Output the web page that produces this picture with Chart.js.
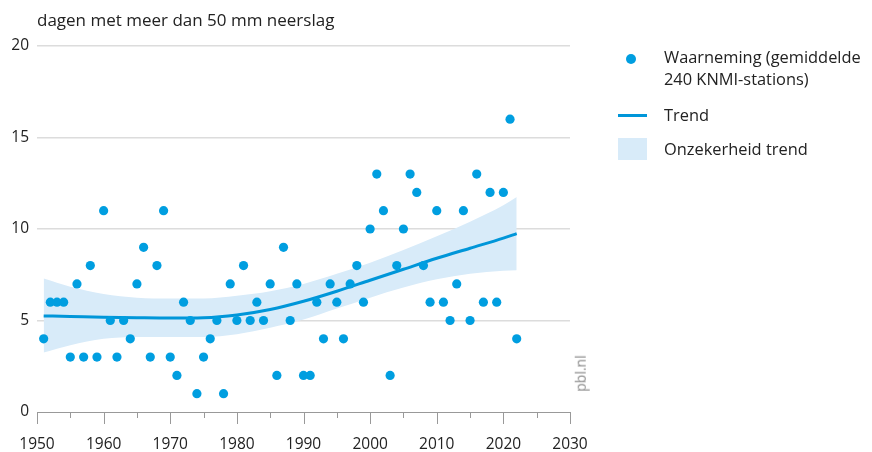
<!DOCTYPE html>
<html>
<head>
<meta charset="utf-8">
<script src="https://cdn.jsdelivr.net/npm/chart.js@4"></script>
<style>
	body { margin: 0; background: #fff; font-family: "Open Sans", sans-serif; color: #222; }
	#wrap { position: relative; width: 872px; height: 452px; }
	#title { position: absolute; left: 37px; top: 8px; font-size: 17px; }
	#pbl { position: absolute; left: 562px; top: 364px; font-size: 14px; color: #888; transform: rotate(-90deg); }
	.leg { position: absolute; font-size: 16.4px; line-height: 22px; }
</style>
</head>
<body>
<div id="wrap">
	<canvas id="rainChart" width="872" height="452"></canvas>
	<div id="title">dagen met meer dan 50 mm neerslag</div>
	<div id="pbl">pbl.nl</div>
	<div class="leg" style="left:626px;top:54px;width:10px;height:10px;border-radius:5px;background:#009ee0"></div>
	<div class="leg" style="left:664px;top:46px">Waarneming (gemiddelde<br>240 KNMI-stations)</div>
	<div class="leg" style="left:618px;top:114px;width:29px;height:3px;background:#0096d9"></div>
	<div class="leg" style="left:664px;top:104px">Trend</div>
	<div class="leg" style="left:618px;top:138px;width:29px;height:22px;background:#d8ebf9"></div>
	<div class="leg" style="left:664px;top:138px">Onzekerheid trend</div>
</div>
<script>
// observations, one per year
var years = [];
for (var y = 1951; y <= 2022; y++) years.push(y);
var observed = [
	4, 6, 6, 6, 3, 7, 3, 8, 3, 11,
	5, 3, 5, 4, 7, 9, 3, 8, 11, 3,
	2, 6, 5, 1, 3, 4, 5, 1, 7, 5,
	8, 5, 6, 5, 7, 2, 9, 5, 7, 2,
	2, 6, 4, 7, 6, 4, 7, 8, 6, 10,
	13, 11, 2, 8, 10, 13, 12, 8, 6, 11,
	6, 5, 7, 11, 5, 13, 6, 12, 6, 12,
	16, 4
];

// trend and its uncertainty band
var trendYears = [1951, 1955, 1960, 1965, 1970, 1975, 1980, 1985, 1990, 1995, 2000, 2005, 2010, 2015, 2020, 2022];
var trend      = [5.25, 5.22, 5.18, 5.15, 5.13, 5.15, 5.3, 5.6, 6.05, 6.6, 7.2, 7.8, 8.4, 8.95, 9.5, 9.75];
var bandUpper  = [7.3, 6.85, 6.45, 6.25, 6.2, 6.2, 6.35, 6.6, 7.0, 7.55, 8.15, 8.85, 9.6, 10.4, 11.3, 11.75];
var bandLower  = [3.25, 3.65, 4.0, 4.1, 4.1, 4.1, 4.25, 4.6, 5.05, 5.65, 6.25, 6.8, 7.25, 7.55, 7.72, 7.75];

var xTicks = [1950, 1960, 1970, 1980, 1990, 2000, 2010, 2020, 2030];
var yTicks = [0, 5, 10, 15, 20];

function pts(xs, vs) {
	return xs.map(function (x, i) { return { x: x, y: vs[i] }; });
}

var fontFam = '"Open Sans", sans-serif';

// tick marks under the x axis: long at decades, short at half decades
var xTickMarks = {
	id: 'xTickMarks',
	afterDraw: function (chart) {
		var sc = chart.scales.x, c = chart.ctx;
		c.save();
		c.strokeStyle = '#999';
		c.lineWidth = 1;
		for (var v = 1950; v <= 2030; v += 5) {
			var px = Math.round(sc.getPixelForValue(v)) + 0.5;
			c.beginPath();
			c.moveTo(px, sc.top);
			c.lineTo(px, sc.top + (v % 10 === 0 ? 12 : 6));
			c.stroke();
		}
		c.restore();
	}
};

var ctx = document.getElementById('rainChart').getContext('2d');
var rainChart = new Chart(ctx, {
	type: 'scatter',
	data: {
		datasets: [
			{
				label: 'Waarneming',
				data: pts(years, observed),
				backgroundColor: '#009ee0',
				borderWidth: 0,
				pointRadius: 4.6,
				order: 0
			},
			{
				type: 'line',
				label: 'Trend',
				data: pts(trendYears, trend),
				borderColor: '#0096d9',
				borderWidth: 3,
				pointRadius: 0,
				cubicInterpolationMode: 'monotone',
				fill: false,
				order: 1
			},
			{
				type: 'line',
				label: 'bovengrens',
				data: pts(trendYears, bandUpper),
				borderWidth: 0,
				borderColor: 'rgba(0,0,0,0)',
				backgroundColor: '#d8ebf9',
				pointRadius: 0,
				cubicInterpolationMode: 'monotone',
				fill: '+1',
				order: 2
			},
			{
				type: 'line',
				label: 'ondergrens',
				data: pts(trendYears, bandLower),
				borderWidth: 0,
				borderColor: 'rgba(0,0,0,0)',
				pointRadius: 0,
				cubicInterpolationMode: 'monotone',
				fill: false,
				order: 3
			}
		]
	},
	options: {
		responsive: false,
		animation: false,
		layout: { padding: { left: 0, right: 302, top: 46, bottom: 0 } },
		scales: {
			x: {
				type: 'linear',
				min: 1950,
				max: 2030,
				afterBuildTicks: function (scale) {
					scale.ticks = xTicks.map(function (v) { return { value: v }; });
				},
				afterFit: function (scale) { scale.height = 40; },
				grid: { display: false },
				border: { display: true, color: '#999', width: 1 },
				ticks: {
					color: '#222',
					padding: 15,
					font: { family: fontFam, size: 15.5 },
					maxRotation: 0,
					callback: function (v) { return String(v); }
				}
			},
			y: {
				min: 0,
				max: 20,
				afterBuildTicks: function (scale) {
					scale.ticks = yTicks.map(function (v) { return { value: v }; });
				},
				afterFit: function (scale) { scale.width = 37; },
				border: { display: false },
				grid: {
					drawTicks: false,
					color: function (c) { return c.tick && c.tick.value === 0 ? 'rgba(0,0,0,0)' : '#dcdcdc'; },
					lineWidth: 1.5
				},
				ticks: {
					color: '#222',
					padding: 8,
					font: { family: fontFam, size: 15.5 }
				}
			}
		},
		plugins: {
			legend: { display: false },
			tooltip: { enabled: false }
		}
	},
	plugins: [xTickMarks]
});
</script>
</body>
</html>
